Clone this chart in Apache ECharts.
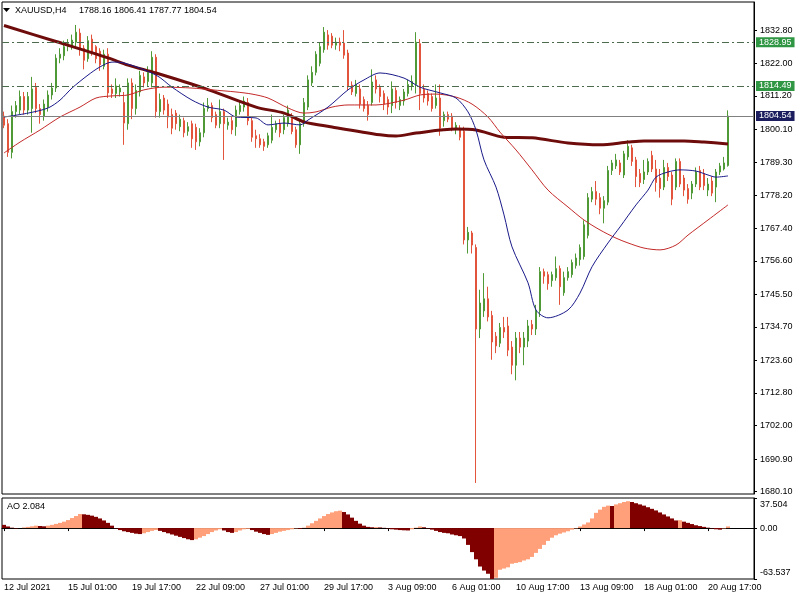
<!DOCTYPE html>
<html><head><meta charset="utf-8">
<script src="https://cdn.jsdelivr.net/npm/echarts@6/dist/echarts.min.js"></script>
<style>html,body{margin:0;padding:0;background:#fff}#c{width:800px;height:600px}</style>
</head><body><div id="c"></div>
<script>
// ---- categories (H4 bars) ----
const dayList = ['12 Jul','13 Jul','14 Jul','15 Jul','16 Jul','19 Jul','20 Jul','21 Jul','22 Jul','23 Jul','26 Jul','27 Jul','28 Jul','29 Jul','30 Jul','2 Aug','3 Aug','4 Aug','5 Aug','6 Aug','9 Aug','10 Aug','11 Aug','12 Aug','13 Aug','16 Aug','17 Aug','18 Aug','19 Aug','20 Aug','23 Aug'];
const hourList = ['01:00','05:00','09:00','13:00','17:00','21:00'];
const tickLabels = ['12 Jul 2021','15 Jul 01:00','19 Jul 17:00','22 Jul 09:00','27 Jul 01:00','29 Jul 17:00','3 Aug 09:00','6 Aug 01:00','10 Aug 17:00','13 Aug 09:00','18 Aug 01:00','20 Aug 17:00'];
const priceTicks = [1832.80,1822.00,1811.20,1800.10,1789.30,1778.20,1767.40,1756.60,1745.50,1734.70,1723.60,1712.80,1702.00,1690.90,1680.10];
const aoTicks = [-63.537, 0, 37.504];
const levelLines = [1828.95, 1814.49];
const bidPrice = 1804.54;

// ---- candles: [open, high, low, close] ----
const candles = [
[1804.5,1806,1800.5,1801.5],[1802,1803.5,1791,1792.5],[1792.5,1808,1790.5,1806],[1806,1809.5,1804,1808],
[1806.5,1813,1805,1811],[1811,1812.5,1805,1806.5],[1806.5,1812.5,1805,1811],[1807,1817.5,1799,1813.5],
[1814,1815.5,1805.5,1807],[1807,1808.5,1802,1805],[1804.5,1810,1803,1808.5],[1807.5,1813,1806,1811.5],
[1811.5,1815.5,1810,1813.8],[1813.8,1825,1812.5,1823.7],[1823.7,1827,1822,1825],[1824.5,1829.5,1823,1827.5],
[1827.5,1830,1826,1828.5],[1827.5,1831.5,1826.5,1829.7],[1829,1834.7,1827.5,1832.3],[1832,1833.5,1824.5,1826.5],
[1827,1828,1820,1823],[1823.5,1831,1822.5,1829.5],[1830,1831.5,1824.5,1825.7],[1827.5,1828,1822,1823.5],
[1826,1827,1819.5,1821.5],[1821,1826.5,1820,1825],[1825,1827,1810.5,1812.2],[1813.5,1815,1810.5,1812],
[1812,1817,1810.5,1814.5],[1812.5,1815,1811,1813.8],[1809,1812.5,1795,1802.2],[1802,1817,1800,1815.5],
[1815.5,1817,1803.5,1807],[1807,1815,1805,1813],[1812.5,1819.5,1811,1818],[1817.5,1819,1814,1815.5],
[1816,1821,1814.5,1819],[1815.5,1826,1814,1824],[1824,1825,1804,1806],[1806,1812,1804,1810],
[1810.5,1811.5,1805,1806.5],[1808.5,1810,1800.5,1804.2],[1805,1807,1798.5,1800.5],[1805.5,1806.5,1800,1802],
[1801,1805,1799.5,1803.5],[1803,1804,1797.5,1799],[1799.5,1802.5,1798,1801],[1802,1803,1794,1797],
[1800.8,1802,1793.3,1796],[1796,1800.5,1794.5,1799],[1799,1809,1797.5,1807],[1807,1810.5,1806,1808],
[1808,1809,1802.5,1804],[1805,1806,1800.5,1801.5],[1802,1810,1800.5,1806],[1806,1807,1790,1802],
[1801.5,1804,1800,1802.5],[1803,1804.5,1798.5,1800],[1801,1808,1798,1806.5],[1806,1809.5,1805,1808],
[1807.5,1811,1806,1809.5],[1809,1810.5,1801.5,1803],[1803,1804,1796,1797.5],[1798,1800,1794,1797],
[1797,1798.5,1794,1795],[1796,1797,1793,1794.5],[1795,1799,1794,1798],[1796.5,1805,1795.5,1800.8],
[1800,1803,1799,1802],[1802,1803.5,1797.5,1799],[1800,1805,1798.5,1804],[1802,1808,1801,1806.5],
[1804,1805.5,1798.5,1799.4],[1800,1801,1794,1795],[1795,1803,1792,1802],[1802,1810.5,1801,1809],
[1807.5,1818,1806.5,1816.5],[1815.5,1821,1814.5,1819],[1819,1826,1818,1825],[1822,1829,1821,1827.5],
[1826.5,1834,1825.5,1832.3],[1831.4,1833,1826.5,1828],[1831,1832,1827,1828],[1828,1830.5,1826.5,1829],
[1829,1830.5,1826,1828],[1828.7,1833,1823.5,1824.7],[1825.4,1826.5,1813,1814.2],[1814.8,1816,1811.5,1812.5],
[1812,1816.5,1811,1815],[1813.5,1815,1807,1808.5],[1810,1811,1806,1807],[1808,1809.5,1803,1805],
[1809,1820,1808,1815.8],[1816.5,1818,1812,1813.5],[1814,1815,1809,1811],[1812,1813,1806.5,1808.5],
[1810,1811,1805,1807.5],[1808,1816,1805.5,1813.5],[1813,1814,1807,1809],[1808,1811,1806.5,1810],
[1809.5,1813.5,1808,1812.5],[1812,1816.5,1811,1815],[1814.5,1818,1813,1816],[1815,1832.3,1812,1829],
[1828.5,1830,1806.5,1812],[1813.5,1815,1809,1810.5],[1812,1813,1808,1809.5],[1811,1812,1806,1807],
[1808,1815,1807,1810.5],[1810.5,1815,1798,1800.5],[1803,1806,1801,1805],[1805,1806,1802.5,1803.5],
[1804.5,1805.5,1799.5,1800.5],[1800,1802.5,1798.5,1801.5],[1800.5,1801.5,1796.5,1797.5],[1799.5,1801,1762,1763.5],
[1763.5,1767.8,1759,1766],[1765.8,1766.5,1759,1761.8],[1761,1762,1683,1734],[1734,1747,1731,1742.6],
[1740,1752.5,1738,1744],[1744,1748,1736.5,1738],[1738.5,1740,1723.8,1729.7],[1731.6,1733,1726,1728.4],
[1729.3,1736,1728,1734.5],[1734.5,1738,1731,1733],[1735,1738,1725,1727],[1728,1730,1719,1722],
[1722,1733,1717,1731],[1731,1733,1726,1728],[1728,1733,1722,1731],[1730,1737,1728,1735],
[1735.5,1737,1732,1734],[1734,1742,1732,1740],[1740,1754.5,1738,1753],[1753,1754,1749,1751.5],
[1752,1753,1747,1749],[1750,1753,1748,1752],[1751,1758,1750,1754],[1754,1755,1742,1748],
[1746,1753,1745,1751],[1751,1754.5,1750,1753],[1752,1757,1751,1756],[1755,1759,1754,1757.5],
[1757,1762,1755,1761],[1758,1770,1757,1768.5],[1765,1779,1764,1777.5],[1777,1781,1776,1779.5],
[1779.5,1783,1775,1777],[1777.5,1779,1772,1774],[1774,1778,1769,1776.5],[1776,1788,1775,1786.5],
[1786.5,1790,1785,1789],[1788,1792,1787,1790],[1789,1790,1785,1786],[1785,1793,1784,1792],
[1791,1796.5,1790,1794.5],[1794,1795,1788,1789.5],[1790,1791,1781,1784.5],[1785.5,1787,1781,1782.5],
[1783.5,1790,1782,1786],[1786,1790.5,1785,1789.5],[1791.5,1793,1786,1787],[1787,1790,1779.5,1782.5],
[1784,1787,1777.5,1780.5],[1781,1790,1780,1787.5],[1787.5,1789,1783,1784.5],[1785,1786,1775,1777],
[1781,1790.5,1780,1789.5],[1789.5,1790.5,1781,1782],[1784,1785,1778,1780],[1780.5,1782,1775.5,1777],
[1779,1783,1777,1782],[1782,1787.5,1781,1786],[1786.5,1788,1780,1781],[1785.5,1787,1780,1781.5],
[1780,1784,1778,1782],[1783,1784.5,1778,1779],[1781,1787,1776,1786],[1786,1789,1785,1788],
[1787,1791,1786.5,1789],[1788.16,1806.41,1787.77,1804.54]
];

// ---- moving averages: [barIndex, price] ----
const maSlow = [[0,1834.5],[13,1829.2],[26,1823.8],[31,1821.4],[38,1818.8],[50,1813.8],[63,1807.5],[70,1805.5],[75,1802.6],[82,1800.9],[94,1798.3],[98,1797.9],[103,1798.9],[113,1800.2],[118,1799.9],[125,1797.5],[132,1797.3],[141,1795.6],[149,1795.0],[156,1795.9],[160,1796.3],[170,1796.3],[175,1795.9],[181,1795.3]];
const maFast = [[0,1804.2],[6,1805.5],[11,1807.2],[14,1809.8],[17,1813.8],[21,1818.1],[24,1820.8],[27,1822.4],[30,1822.1],[38,1818.1],[42,1814.1],[47,1809.8],[51,1807.5],[55,1806.5],[58,1804.2],[63,1803.9],[66,1801.6],[70,1802.2],[74,1801.6],[76,1803.2],[81,1807.5],[86,1813.2],[90,1816.5],[94,1818.8],[100,1817.1],[104,1814.1],[109,1812.2],[113,1810.5],[116,1805.9],[118,1799.9],[120,1790],[123,1781],[125,1771.8],[127,1761.2],[131,1749.3],[133,1740.3],[136,1737.7],[141,1740.3],[144,1745.9],[147,1754.6],[151,1762.5],[154,1767.8],[158,1775.1],[161,1780],[163,1784.3],[166,1786],[169,1786.7],[173,1786.3],[176,1785],[178,1784.3],[181,1784.7]];
const maMid = [[0,1792.3],[4,1795.9],[9,1799.9],[14,1804.2],[19,1807.5],[23,1810.5],[27,1811.2],[31,1811.5],[35,1813.2],[40,1814.1],[47,1813.8],[52,1813.2],[58,1812.5],[62,1811.8],[66,1810.5],[71,1807.2],[75,1805.5],[78,1805.9],[82,1807.5],[86,1808.2],[93,1808.2],[100,1809.8],[104,1811.5],[108,1811.8],[113,1810.8],[117,1808.5],[121,1804.2],[124,1799.2],[128,1793.3],[132,1786.7],[136,1780],[141,1774.4],[145,1770.1],[149,1766.8],[153,1764.1],[156,1762.5],[160,1760.8],[164,1760.2],[168,1761.8],[171,1765.1],[176,1770.1],[181,1775.1]];

// ---- Awesome Oscillator values ----
const ao = [
4.0,2.0,0.5,-0.5,0.0,0.8,1.5,2.2,3.0,2.6,
2.2,3.0,4.0,5.2,6.5,8.0,10.0,12.5,15.0,17.5,
17.2,16.5,15.5,14.0,12.0,9.5,6.5,3.0,-0.5,-2.5,
-4.0,-5.0,-6.0,-7.0,-7.5,-6.5,-5.0,-3.5,-2.5,-3.5,
-5.0,-6.5,-8.0,-9.5,-11.0,-12.5,-14.0,-15.0,-14.0,-12.0,
-10.0,-7.5,-5.0,-3.0,-1.5,-3.0,-5.0,-6.0,-5.0,-3.0,
-1.5,-1.0,-2.5,-4.5,-6.0,-7.5,-8.5,-7.5,-6.0,-4.5,
-3.5,-2.5,-1.5,-0.5,-1.0,0.5,3.0,6.0,9.0,12.0,
15.0,17.5,19.5,21.0,21.7,20.0,17.0,13.0,9.0,5.5,
3.0,1.5,1.0,1.2,0.8,0.3,-0.5,-1.5,-2.0,-2.5,
-2.8,-3.0,-1.5,0.5,2.0,1.0,-0.5,-2.0,-3.5,-5.0,
-6.0,-6.5,-8.0,-9.0,-10.0,-13.0,-21.0,-30.0,-39.0,-48.0,
-53.0,-57.0,-63.5,-62.0,-52.0,-50.5,-49.0,-44.5,-43.5,-42.5,
-40.5,-39.0,-36.0,-31.0,-26.0,-21.0,-16.0,-12.0,-9.0,-7.0,
-5.5,-4.0,-2.0,-0.5,2.0,4.5,7.0,12.0,19.0,23.0,
26.5,28.0,27.5,29.5,31.0,32.5,33.5,32.5,31.0,29.5,
28.0,26.0,24.0,22.0,19.5,17.0,14.5,12.0,9.5,9.8,
8.0,6.5,5.0,3.5,2.5,1.5,0.5,-0.5,-1.5,-2.0,
-0.5,2.084
];

// ---- build categories ----
const allBars = [];
dayList.forEach(d => hourList.forEach(h => allBars.push(d + ' ' + h)));
const categories = allBars.slice(2, 2 + candles.length);
while (categories.length < 188) categories.push('');

const FONT = 'Liberation Sans';
const GREEN = '#4f9a36', RED = '#e2553c';
const AO_UP = '#ffa07a', AO_DOWN = '#800000';
const showTick = (i) => i % 16 === 0 && i / 16 < tickLabels.length;

const last = candles[candles.length - 1];
const chart = echarts.init(document.getElementById('c'), null, {renderer: 'canvas'});
chart.setOption({
  animation: false,
  backgroundColor: '#ffffff',
  textStyle: {fontFamily: FONT},
  grid: [
    {left: 2, top: 2, width: 752, height: 492, show: true, borderColor: '#000', borderWidth: 1},
    {left: 2, top: 498, width: 752, height: 81, show: true, borderColor: '#000', borderWidth: 1}
  ],
  xAxis: [
    {type: 'category', gridIndex: 0, data: categories, boundaryGap: true,
     axisLine: {show: false}, axisTick: {show: false}, axisLabel: {show: false}, splitLine: {show: false}},
    {type: 'category', gridIndex: 1, data: categories, boundaryGap: true,
     axisLine: {show: true, lineStyle: {color: '#000'}},
     axisTick: {show: true, alignWithLabel: true, interval: (i) => showTick(i), length: 3, lineStyle: {color: '#000'}},
     axisLabel: {show: true, interval: (i) => showTick(i), formatter: (v, i) => tickLabels[i / 16] || '',
       align: 'left', margin: 4, fontSize: 9, color: '#000', fontFamily: FONT},
     splitLine: {show: false}}
  ],
  yAxis: [
    {type: 'value', gridIndex: 0, position: 'right', min: 1679.35, max: 1842.3, scale: true,
     axisLine: {show: true, lineStyle: {color: '#000'}},
     axisTick: {show: true, length: 3, customValues: priceTicks, lineStyle: {color: '#000'}},
     axisLabel: {customValues: priceTicks, formatter: (v) => Number(v).toFixed(2), margin: 6, fontSize: 9, color: '#000', fontFamily: FONT},
     splitLine: {show: false}},
    {type: 'value', gridIndex: 1, position: 'right', min: aoTicks[0], max: aoTicks[2],
     axisLine: {show: true, lineStyle: {color: '#000'}},
     axisTick: {show: true, length: 3, customValues: aoTicks, lineStyle: {color: '#000'}},
     axisLabel: {customValues: aoTicks, margin: 6, fontSize: 9, color: '#000', fontFamily: FONT,
       formatter: (v) => v > 1 ? '{t|' + v.toFixed(3) + '}' : (v < -1 ? '{b|' + v.toFixed(3) + '}' : '0.00'),
       rich: {t: {padding: [13, 0, 0, 0], fontSize: 9, fontFamily: FONT, color: '#000'},
              b: {padding: [0, 0, 13, 0], fontSize: 9, fontFamily: FONT, color: '#000'}}},
     splitLine: {show: false}}
  ],
  graphic: [
    {type: 'polygon', shape: {points: [[3, 8], [10, 8], [6.5, 12]]}, style: {fill: '#000'}, silent: true},
    {type: 'text', left: 15, top: 6, silent: true, style: {text: 'XAUUSD,H4', font: '9px "' + FONT + '"', fill: '#000'}},
    {type: 'text', left: 79, top: 6, silent: true, style: {text: [last[0], last[1], last[2], last[3]].map(v => v.toFixed(2)).join(' '), font: '9px "' + FONT + '"', fill: '#000'}},
    {type: 'text', left: 7, top: 502, silent: true, style: {text: 'AO ' + ao[ao.length - 1].toFixed(3), font: '9px "' + FONT + '"', fill: '#000'}}
  ],
  series: [
    {type: 'candlestick', xAxisIndex: 0, yAxisIndex: 0, clip: false, silent: true,
     data: candles.map(c => [c[0], c[3], c[2], c[1]]),
     barWidth: 2,
     itemStyle: {color: GREEN, color0: RED, borderColor: GREEN, borderColor0: RED, borderWidth: 1},
     markLine: {symbol: ['none', 'none'], silent: true, animation: false,
       data: [
         {yAxis: levelLines[0], lineStyle: {color: '#4d6b4d', type: [7, 3, 2, 3], width: 1},
          label: {show: true, position: 'end', distance: 2, formatter: (p) => Number(p.value).toFixed(2), backgroundColor: '#2f9643', color: '#fff', padding: [1, 3, 0, 3], fontSize: 9, fontFamily: FONT}},
         {yAxis: levelLines[1], lineStyle: {color: '#4d6b4d', type: [7, 3, 2, 3], width: 1},
          label: {show: true, position: 'end', distance: 2, formatter: (p) => Number(p.value).toFixed(2), backgroundColor: '#2f9643', color: '#fff', padding: [1, 3, 0, 3], fontSize: 9, fontFamily: FONT}},
         {yAxis: bidPrice, lineStyle: {color: '#808080', type: 'solid', width: 1},
          label: {show: true, position: 'end', distance: 2, formatter: (p) => Number(p.value).toFixed(2), backgroundColor: '#1b1d5e', color: '#fff', padding: [1, 3, 0, 3], fontSize: 9, fontFamily: FONT}}
       ]}},
    {type: 'line', xAxisIndex: 0, yAxisIndex: 0, data: maSlow, showSymbol: false, smooth: 0.3, silent: true,
     lineStyle: {color: '#6e0b0b', width: 3}, z: 3},
    {type: 'line', xAxisIndex: 0, yAxisIndex: 0, data: maMid, showSymbol: false, smooth: 0.3, silent: true,
     lineStyle: {color: '#c42a2a', width: 1}, z: 3},
    {type: 'line', xAxisIndex: 0, yAxisIndex: 0, data: maFast, showSymbol: false, smooth: 0.3, silent: true,
     lineStyle: {color: '#1a1a8a', width: 1}, z: 3},
    {type: 'bar', xAxisIndex: 1, yAxisIndex: 1, silent: true, barWidth: 4, barGap: '0%',
     data: ao.map((v, i) => ({value: v, itemStyle: {color: (i > 0 && v > ao[i - 1]) ? AO_UP : AO_DOWN}}))}
  ]
});
</script>
</body></html>
